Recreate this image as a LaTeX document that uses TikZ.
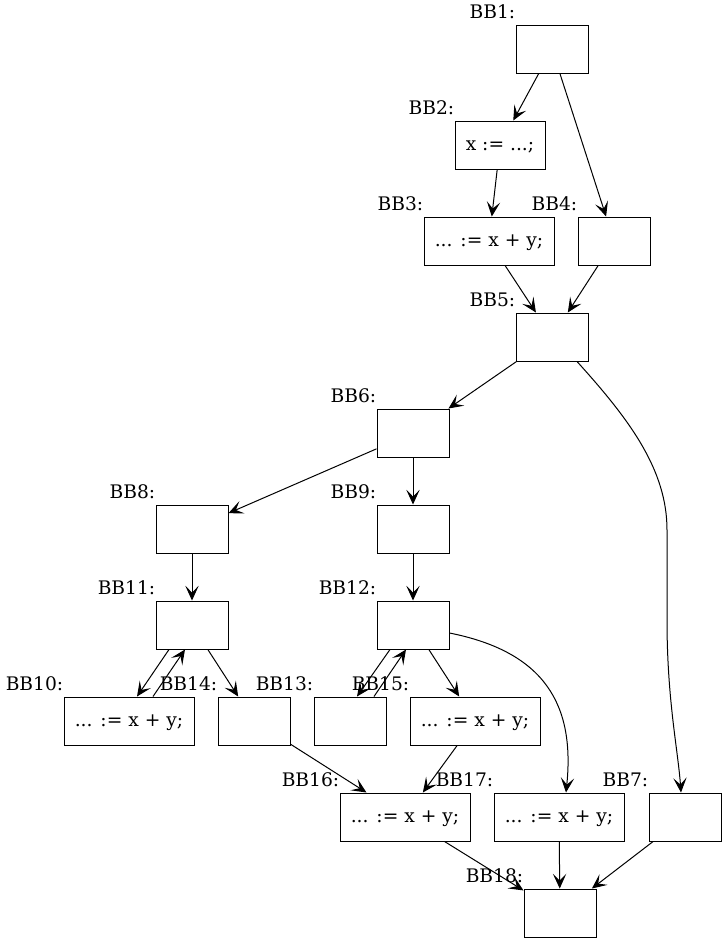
\documentclass[tikz,border=0pt]{standalone}
\usepackage{fontspec}
\setmainfont{DejaVu Serif}
\usepackage{tikz}
\usetikzlibrary{calc,arrows.meta}

\begin{document}
\begin{tikzpicture}[x=0.75pt,y=-0.75pt,
  bb/.style={draw,line width=0.75pt,minimum width=54pt,minimum height=36pt,inner sep=0pt,
    text height=10pt,text depth=2pt,font=\fontsize{14}{17}\selectfont},
  wide/.style={minimum width=97.5pt},
  bbname/.style={anchor=base east,inner sep=0pt,font=\fontsize{14}{17}\selectfont},
  edge/.style={line width=0.75pt,-{Stealth[length=11pt,width=10pt,inset=5pt]}}]
\useasboundingbox (0,0) rectangle (727,943);
\node[bb] (bb1) at (552,49) {};
\node[bb,minimum width=67.5pt] (bb2) at (500,145) {x := ...;};
\node[bb,wide] (bb3) at (489,241) {... := x + y;};
\node[bb] (bb4) at (614,241) {};
\node[bb] (bb5) at (552,337) {};
\node[bb] (bb6) at (413,433) {};
\node[bb] (bb7) at (685,817) {};
\node[bb] (bb8) at (192,529) {};
\node[bb] (bb9) at (413,529) {};
\node[bb,wide] (bb10) at (129,721) {... := x + y;};
\node[bb] (bb11) at (192,625) {};
\node[bb] (bb12) at (413,625) {};
\node[bb] (bb13) at (350,721) {};
\node[bb] (bb14) at (254,721) {};
\node[bb,wide] (bb15) at (475,721) {... := x + y;};
\node[bb,wide] (bb16) at (405,817) {... := x + y;};
\node[bb,wide] (bb17) at (559,817) {... := x + y;};
\node[bb] (bb18) at (560,913) {};
\foreach \n in {1,...,18}
  \node[bbname] (l\n) at ($(bb\n.north west)+(0,-6)$) {BB\n:};
\draw[edge] (bb1) -- (bb2);
\draw[edge] (bb1) -- (bb4);
\draw[edge] (bb2) -- (bb3);
\draw[edge] (bb3) -- (bb5);
\draw[edge] (bb4) -- (bb5);
\draw[edge] (bb5) -- (bb6);
\draw[edge] ($(bb5.south)+(25,0)$) .. controls (630,420) and (667,470) .. (667,530)
  -- (667,620) .. controls (667,700) and (678,750) .. ($(bb7.north)+(-4,0)$);
\draw[edge] (bb6) -- (bb8);
\draw[edge] (bb6) -- (bb9);
\draw[edge] (bb8) -- (bb11);
\draw[edge] (bb9) -- (bb12);
\draw[edge] ($(bb11.south)+(-23,0)$) -- ($(bb10.north)+(8,0)$);
\draw[edge] ($(bb10.north)+(24,0)$) -- ($(bb11.south)+(-7,0)$);
\draw[edge] (bb11) -- (bb14);
\draw[edge] ($(bb12.south)+(-23,0)$) -- ($(bb13.north)+(7,0)$);
\draw[edge] ($(bb13.north)+(24,0)$) -- ($(bb12.south)+(-7,0)$);
\draw[edge] (bb12) -- (bb15);
\draw[edge] ($(bb12.east)+(0,8)$) .. controls (545,652) and (575,705) .. ($(bb17.north)+(7,0)$);
\draw[edge] (bb14) -- (bb16);
\draw[edge] (bb15) -- (bb16);
\draw[edge] (bb16) -- (bb18);
\draw[edge] (bb17) -- (bb18);
\draw[edge] (bb7) -- (bb18);
\end{tikzpicture}
\end{document}
